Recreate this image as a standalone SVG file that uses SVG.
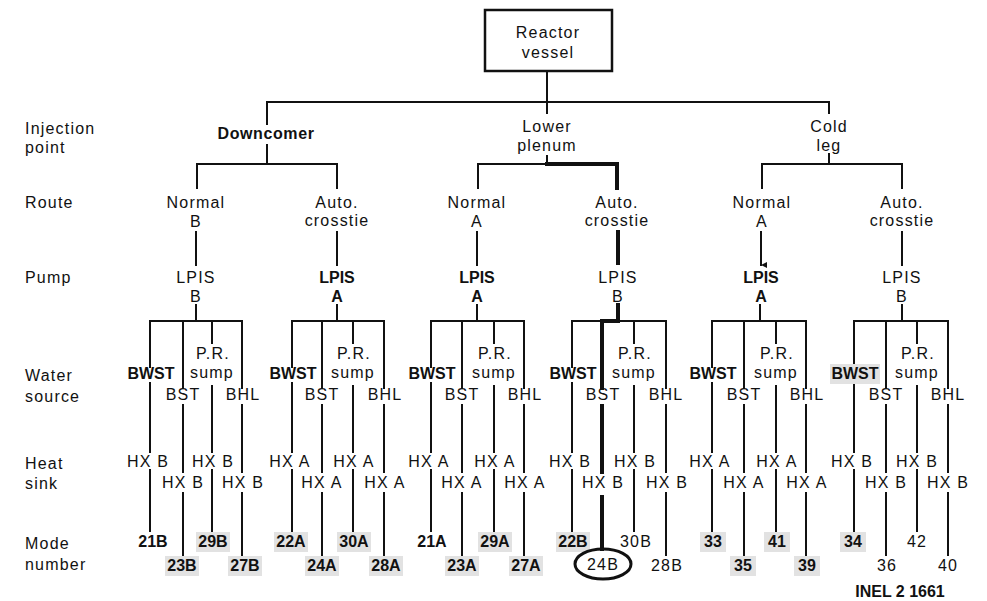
<svg xmlns="http://www.w3.org/2000/svg" width="987" height="601" viewBox="0 0 987 601">
<style>
text{font-family:"Liberation Sans",Arial,sans-serif;font-size:16px;fill:#111;}
.t{text-anchor:middle;letter-spacing:1.2px;}
.b{text-anchor:middle;font-weight:bold;}
.lab{text-anchor:start;letter-spacing:1.2px;}
.ln{stroke:#111;stroke-width:2;fill:none;stroke-linecap:square;}
.th{stroke:#111;stroke-width:4;fill:none;stroke-linecap:square;}
.sh{fill:#e2e2e2;}
</style>
<defs>
<marker id="ah" viewBox="0 0 6 6" refX="3" refY="6" markerWidth="6" markerHeight="6" orient="auto-start-reverse" markerUnits="userSpaceOnUse">
<path d="M0,0 L3,6 L6,0 Z" fill="#111"/>
</marker>
</defs>
<rect width="987" height="601" fill="#fff"/>

<g id="row-labels">
<text class="lab" x="25" y="134">Injection</text>
<text class="lab" x="25" y="153">point</text>
<text class="lab" x="25" y="208">Route</text>
<text class="lab" x="25" y="283">Pump</text>
<text class="lab" x="25" y="381">Water</text>
<text class="lab" x="25" y="402">source</text>
<text class="lab" x="25" y="469">Heat</text>
<text class="lab" x="25" y="489">sink</text>
<text class="lab" x="25" y="549">Mode</text>
<text class="lab" x="25" y="570">number</text>
</g>

<g id="connectors">
<line class="ln" x1="547" y1="72" x2="547" y2="113"/>
<polyline class="ln" points="267,124 267,102 829,102 829,113"/>
<line class="ln" x1="267" y1="145" x2="267" y2="164"/>
<polyline class="ln" points="197,188 197,164 337,164 337,188"/>
<polyline class="ln" points="478,188 478,164 547,164"/>
<line class="ln" x1="547" y1="156" x2="547" y2="164"/>
<polyline class="th" points="547,164 617,164 617,188"/>
<line class="ln" x1="829" y1="154" x2="829" y2="164"/>
<polyline class="ln" points="762,188 762,164 902,164 902,188"/>
<line class="ln" x1="196" y1="232" x2="196" y2="265"/>
<line class="ln" x1="337" y1="232" x2="337" y2="265"/>
<line class="ln" x1="477" y1="232" x2="477" y2="265"/>
<line class="th" x1="618" y1="232" x2="618" y2="263"/>
<line class="ln" x1="761" y1="232" x2="761" y2="265" marker-end="url(#ah)"/>
<line class="ln" x1="902" y1="232" x2="902" y2="265"/>

<line class="ln" x1="196" y1="305" x2="196" y2="321"/>
<line class="ln" x1="150" y1="321" x2="242" y2="321"/>
<path class="ln" d="M150,321V367M150,383V452M150,470V531"/>
<path class="ln" d="M183,321V388M183,405V472M183,493V555"/>
<path class="ln" d="M212,321V343M212,386V452M212,470V531"/>
<path class="ln" d="M242,321V388M242,405V472M242,493V555"/>

<line class="ln" x1="337" y1="305" x2="337" y2="321"/>
<line class="ln" x1="292" y1="321" x2="384" y2="321"/>
<path class="ln" d="M292,321V367M292,383V452M292,470V531"/>
<path class="ln" d="M322,321V388M322,405V472M322,493V555"/>
<path class="ln" d="M353,321V343M353,386V452M353,470V531"/>
<path class="ln" d="M384,321V388M384,405V472M384,493V555"/>

<line class="ln" x1="477" y1="305" x2="477" y2="321"/>
<line class="ln" x1="431" y1="321" x2="524" y2="321"/>
<path class="ln" d="M431,321V367M431,383V452M431,470V531"/>
<path class="ln" d="M462,321V388M462,405V472M462,493V555"/>
<path class="ln" d="M494,321V343M494,386V452M494,470V531"/>
<path class="ln" d="M524,321V388M524,405V472M524,493V555"/>

<line class="ln" x1="572" y1="321" x2="666" y2="321"/>
<polyline class="th" points="618,305 618,321 602,321"/>
<path class="ln" d="M572,321V367M572,383V452M572,470V531"/>
<path class="th" d="M602,321V388M602,406V472M602,497V549"/>
<path class="ln" d="M634,321V343M634,386V452M634,470V531"/>
<path class="ln" d="M666,321V388M666,405V472M666,493V555"/>

<line class="ln" x1="760" y1="305" x2="760" y2="321"/>
<line class="ln" x1="712" y1="321" x2="806" y2="321"/>
<path class="ln" d="M712,321V367M712,383V452M712,470V531"/>
<path class="ln" d="M744,321V388M744,405V472M744,493V555"/>
<path class="ln" d="M776,321V343M776,386V452M776,470V531"/>
<path class="ln" d="M806,321V388M806,405V472M806,493V555"/>

<line class="ln" x1="902" y1="305" x2="902" y2="321"/>
<line class="ln" x1="854" y1="321" x2="948" y2="321"/>
<path class="ln" d="M854,321V367M854,383V452M854,470V531"/>
<path class="ln" d="M886,321V388M886,405V472M886,493V555"/>
<path class="ln" d="M917,321V343M917,386V452M917,470V531"/>
<path class="ln" d="M948,321V388M948,405V472M948,493V555"/>
</g>

<g id="reactor-vessel">
<rect x="485" y="10" width="127" height="61" fill="#fff" stroke="#111" stroke-width="2.5"/>
<text class="t" x="548" y="38">Reactor</text>
<text class="t" x="548" y="58">vessel</text>
</g>

<g id="inj-downcomer"><text class="b" x="266" y="139" style="letter-spacing:0.6px">Downcomer</text></g>
<g id="inj-lower-plenum"><text class="t" x="547" y="132">Lower</text><text class="t" x="547" y="151">plenum</text></g>
<g id="inj-cold-leg"><text class="t" x="829" y="132">Cold</text><text class="t" x="829" y="151">leg</text></g>

<g id="route-1"><text class="t" x="196" y="208">Normal</text><text class="t" x="196" y="227">B</text></g>
<g id="route-2"><text class="t" x="337" y="208">Auto.</text><text class="t" x="337" y="226">crosstie</text></g>
<g id="route-3"><text class="t" x="477" y="208">Normal</text><text class="t" x="477" y="227">A</text></g>
<g id="route-4"><text class="t" x="617" y="208">Auto.</text><text class="t" x="617" y="226">crosstie</text></g>
<g id="route-5"><text class="t" x="762" y="208">Normal</text><text class="t" x="762" y="227">A</text></g>
<g id="route-6"><text class="t" x="902" y="208">Auto.</text><text class="t" x="902" y="226">crosstie</text></g>

<g id="pump-1"><text class="t" x="196" y="283">LPIS</text><text class="t" x="196" y="302">B</text></g>
<g id="pump-2"><text class="b" x="337" y="283">LPIS</text><text class="b" x="337" y="302">A</text></g>
<g id="pump-3"><text class="b" x="477" y="283">LPIS</text><text class="b" x="477" y="302">A</text></g>
<g id="pump-4"><text class="t" x="618" y="283">LPIS</text><text class="t" x="618" y="302">B</text></g>
<g id="pump-5"><text class="b" x="761" y="283">LPIS</text><text class="b" x="761" y="302">A</text></g>
<g id="pump-6"><text class="t" x="902" y="283">LPIS</text><text class="t" x="902" y="302">B</text></g>

<g id="water-1">
<text class="b" x="151" y="379">BWST</text><text class="t" x="183" y="400">BST</text>
<text class="t" x="213" y="359">P.R.</text><text class="t" x="212" y="378">sump</text><text class="t" x="243" y="400">BHL</text>
</g>
<g id="water-2">
<text class="b" x="293" y="379">BWST</text><text class="t" x="322" y="400">BST</text>
<text class="t" x="354" y="359">P.R.</text><text class="t" x="353" y="378">sump</text><text class="t" x="385" y="400">BHL</text>
</g>
<g id="water-3">
<text class="b" x="432" y="379">BWST</text><text class="t" x="462" y="400">BST</text>
<text class="t" x="495" y="359">P.R.</text><text class="t" x="494" y="378">sump</text><text class="t" x="525" y="400">BHL</text>
</g>
<g id="water-4">
<text class="b" x="573" y="379">BWST</text><text class="t" x="603" y="400">BST</text>
<text class="t" x="635" y="359">P.R.</text><text class="t" x="634" y="378">sump</text><text class="t" x="666" y="400">BHL</text>
</g>
<g id="water-5">
<text class="b" x="713" y="379">BWST</text><text class="t" x="744" y="400">BST</text>
<text class="t" x="777" y="359">P.R.</text><text class="t" x="776" y="378">sump</text><text class="t" x="807" y="400">BHL</text>
</g>
<g id="water-6">
<rect class="sh" x="830" y="364" width="50" height="20"/>
<text class="b" x="855" y="379">BWST</text><text class="t" x="886" y="400">BST</text>
<text class="t" x="918" y="359">P.R.</text><text class="t" x="917" y="378">sump</text><text class="t" x="948" y="400">BHL</text>
</g>

<g id="heat-1">
<text class="t" x="148" y="467">HX B</text><text class="t" x="213" y="467">HX B</text>
<text class="t" x="183" y="488">HX B</text><text class="t" x="243" y="488">HX B</text>
</g>
<g id="heat-2">
<text class="t" x="290" y="467">HX A</text><text class="t" x="354" y="467">HX A</text>
<text class="t" x="322" y="488">HX A</text><text class="t" x="385" y="488">HX A</text>
</g>
<g id="heat-3">
<text class="t" x="429" y="467">HX A</text><text class="t" x="495" y="467">HX A</text>
<text class="t" x="462" y="488">HX A</text><text class="t" x="525" y="488">HX A</text>
</g>
<g id="heat-4">
<text class="t" x="570" y="467">HX B</text><text class="t" x="635" y="467">HX B</text>
<text class="t" x="603" y="488">HX B</text><text class="t" x="667" y="488">HX B</text>
</g>
<g id="heat-5">
<text class="t" x="710" y="467">HX A</text><text class="t" x="777" y="467">HX A</text>
<text class="t" x="744" y="488">HX A</text><text class="t" x="807" y="488">HX A</text>
</g>
<g id="heat-6">
<text class="t" x="852" y="467">HX B</text><text class="t" x="917" y="467">HX B</text>
<text class="t" x="886" y="488">HX B</text><text class="t" x="948" y="488">HX B</text>
</g>

<g id="mode-1">
<text class="b" x="153" y="547">21B</text>
<rect class="sh" x="196" y="532" width="34" height="20"/><text class="b" x="213" y="547">29B</text>
<rect class="sh" x="165" y="556" width="34" height="20"/><text class="b" x="182" y="571">23B</text>
<rect class="sh" x="228" y="556" width="34" height="20"/><text class="b" x="245" y="571">27B</text>
</g>
<g id="mode-2">
<rect class="sh" x="274" y="532" width="34" height="20"/><text class="b" x="291" y="547">22A</text>
<rect class="sh" x="337" y="532" width="34" height="20"/><text class="b" x="354" y="547">30A</text>
<rect class="sh" x="305" y="556" width="34" height="20"/><text class="b" x="322" y="571">24A</text>
<rect class="sh" x="369" y="556" width="34" height="20"/><text class="b" x="386" y="571">28A</text>
</g>
<g id="mode-3">
<text class="b" x="432" y="547">21A</text>
<rect class="sh" x="478" y="532" width="34" height="20"/><text class="b" x="495" y="547">29A</text>
<rect class="sh" x="445" y="556" width="34" height="20"/><text class="b" x="462" y="571">23A</text>
<rect class="sh" x="509" y="556" width="34" height="20"/><text class="b" x="526" y="571">27A</text>
</g>
<g id="mode-4">
<rect class="sh" x="556" y="532" width="34" height="20"/><text class="b" x="573" y="547">22B</text>
<text class="t" x="636" y="547">30B</text>
<ellipse cx="603" cy="564" rx="28" ry="15" fill="none" stroke="#111" stroke-width="3"/>
<text class="t" x="603" y="570">24B</text>
<text class="t" x="667" y="571">28B</text>
</g>
<g id="mode-5">
<rect class="sh" x="700" y="532" width="26" height="20"/><text class="b" x="713" y="547">33</text>
<rect class="sh" x="764" y="532" width="26" height="20"/><text class="b" x="777" y="547">41</text>
<rect class="sh" x="730" y="556" width="26" height="20"/><text class="b" x="743" y="571">35</text>
<rect class="sh" x="794" y="556" width="26" height="20"/><text class="b" x="807" y="571">39</text>
</g>
<g id="mode-6">
<rect class="sh" x="840" y="532" width="26" height="20"/><text class="b" x="853" y="547">34</text>
<text class="t" x="917" y="547">42</text>
<text class="t" x="887" y="571">36</text>
<text class="t" x="948" y="571">40</text>
</g>

<g id="figure-id"><text class="b" x="900" y="597">INEL 2 1661</text></g>
</svg>
